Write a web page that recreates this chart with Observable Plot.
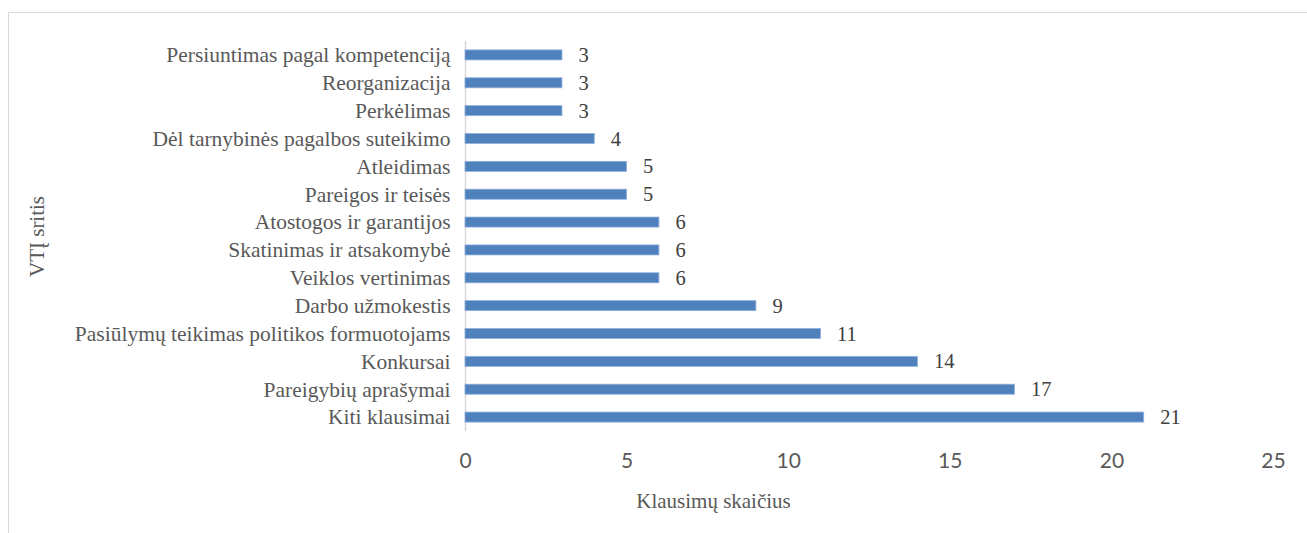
<!DOCTYPE html>
<html>
<head>
<meta charset="utf-8">
<script src="https://cdn.jsdelivr.net/npm/d3@7"></script>
<script src="https://cdn.jsdelivr.net/npm/@observablehq/plot@0.6"></script>
<style>
  html, body { margin: 0; padding: 0; background: #fff; overflow: hidden; }
  #wrap { position: relative; width: 1307px; height: 533px; overflow: hidden; }
  #border { position: absolute; left: 8px; top: 12px; width: 1400px; height: 700px; border: 1px solid #d9d9d9; box-sizing: border-box; }
  #chart { position: absolute; left: 0; top: 0; }
</style>
</head>
<body>
<div id="wrap"><div id="border"></div><div id="chart"></div></div>
<script>
const categories = [
  "Persiuntimas pagal kompetenciją",
  "Reorganizacija",
  "Perkėlimas",
  "Dėl tarnybinės pagalbos suteikimo",
  "Atleidimas",
  "Pareigos ir teisės",
  "Atostogos ir garantijos",
  "Skatinimas ir atsakomybė",
  "Veiklos vertinimas",
  "Darbo užmokestis",
  "Pasiūlymų teikimas politikos formuotojams",
  "Konkursai",
  "Pareigybių aprašymai",
  "Kiti klausimai"
];
const values = [3, 3, 3, 4, 5, 5, 6, 6, 6, 9, 11, 14, 17, 21];
const xTicks = [0, 5, 10, 15, 20, 25];
const xTitle = "Klausimų skaičius";
const yTitle = "VTĮ sritis";

const data = categories.map((c, i) => ({category: c, value: values[i]}));
const serif = "'Liberation Serif', 'Times New Roman', serif";

const plot = Plot.plot({
  width: 1307,
  height: 533,
  marginLeft: 465,
  marginRight: 34,
  marginTop: 41,
  marginBottom: 102,
  style: {background: "transparent", overflow: "visible"},
  x: {domain: [0, 25], ticks: xTicks},
  y: {domain: categories, paddingInner: 0.64, paddingOuter: 0.32, round: false},
  marks: [
    Plot.axisX({
      ticks: xTicks, tickSize: 0, tickPadding: 22, label: null,
      fontSize: 21, fontFamily: "Lato, 'Open Sans', sans-serif", fill: "#595959"
    }),
    Plot.axisY({
      tickSize: 0, tickPadding: 15, label: null,
      fontSize: 21.5, fontFamily: serif, fill: "#595959"
    }),
    Plot.ruleX([0], {stroke: "#d9d9d9", strokeWidth: 1.5}),
    Plot.barX(data, {
      x: "value", y: "category",
      fill: "#4f81bd", stroke: "#8fb0dc", strokeWidth: 0.8
    }),
    Plot.text(data, {
      x: "value", y: "category", text: d => String(d.value),
      textAnchor: "start", dx: 16, fontSize: 20.5, fontFamily: serif, fill: "#404040"
    }),
    Plot.text([xTitle], {
      frameAnchor: "bottom", dx: -156, dy: 76,
      fontSize: 21, fontFamily: serif, fill: "#595959"
    }),
    Plot.text([yTitle], {
      frameAnchor: "left", textAnchor: "middle", dx: -428, rotate: -90,
      fontSize: 21, fontFamily: serif, fill: "#595959"
    })
  ]
});
document.getElementById("chart").appendChild(plot);
</script>
</body>
</html>
